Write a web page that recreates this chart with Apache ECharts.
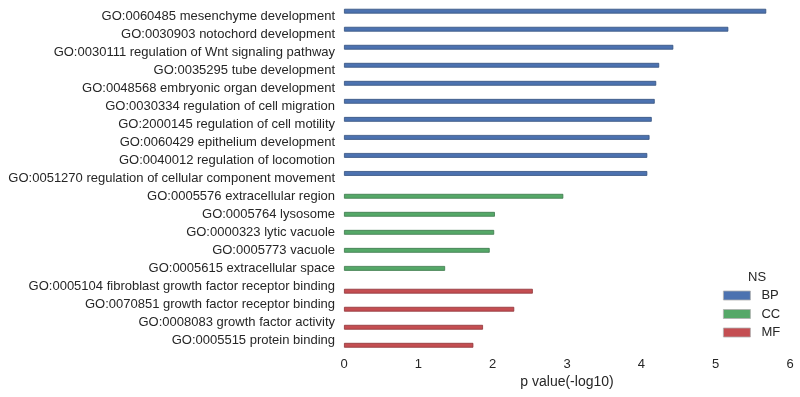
<!DOCTYPE html>
<html>
<head>
<meta charset="utf-8">
<script src="https://cdn.jsdelivr.net/npm/echarts@6/dist/echarts.min.js"></script>
<style>
html,body{margin:0;padding:0;background:#fff;}
#chart{width:800px;height:397px;}
</style>
</head>
<body>
<div id="chart"></div>
<script>
const bpTerms = [
  "GO:0060485 mesenchyme development",
  "GO:0030903 notochord development",
  "GO:0030111 regulation of Wnt signaling pathway",
  "GO:0035295 tube development",
  "GO:0048568 embryonic organ development",
  "GO:0030334 regulation of cell migration",
  "GO:2000145 regulation of cell motility",
  "GO:0060429 epithelium development",
  "GO:0040012 regulation of locomotion",
  "GO:0051270 regulation of cellular component movement"
];
const bpValues = [5.68, 5.17, 4.43, 4.24, 4.20, 4.18, 4.14, 4.11, 4.08, 4.08];
const ccTerms = [
  "GO:0005576 extracellular region",
  "GO:0005764 lysosome",
  "GO:0000323 lytic vacuole",
  "GO:0005773 vacuole",
  "GO:0005615 extracellular space"
];
const ccValues = [2.95, 2.03, 2.02, 1.96, 1.36];
const mfTerms = [
  "GO:0005104 fibroblast growth factor receptor binding",
  "GO:0070851 growth factor receptor binding",
  "GO:0008083 growth factor activity",
  "GO:0005515 protein binding"
];
const mfValues = [2.54, 2.29, 1.87, 1.74];
const xTicks = [0, 1, 2, 3, 4, 5, 6];

const categories = bpTerms.concat(ccTerms, mfTerms);
function fill(terms, values) {
  return categories.map(c => {
    const i = terms.indexOf(c);
    return i >= 0 ? values[i] : null;
  });
}
const colors = { BP: '#4C72B0', CC: '#55A868', MF: '#C44E52' };
const edge = { BP: '#34507e', CC: '#3b774a', MF: '#8e3437' };
function mk(name, terms, values) {
  return {
    name: name,
    type: 'bar',
    data: fill(terms, values),
    barGap: '0%',
    barCategoryGap: '20%',
    itemStyle: { color: colors[name], borderColor: edge[name], borderWidth: 0.8 },
    emphasis: { disabled: true }
  };
}
const chart = echarts.init(document.getElementById('chart'), null, { renderer: 'canvas' });
chart.setOption({
  animation: false,
  backgroundColor: '#ffffff',
  textStyle: { fontFamily: 'Liberation Sans, Arial, sans-serif' },
  title: {
    text: 'NS', left: 743, top: 266,
    textStyle: { fontSize: 13, fontWeight: 'normal', color: '#262626', fontFamily: 'Liberation Sans' }
  },
  legend: {
    orient: 'vertical', left: 718, top: 284,
    itemWidth: 27, itemHeight: 9, itemGap: 5.5,
    icon: 'rect',
    data: ['BP', 'CC', 'MF'],
    itemStyle: { borderColor: '#b0b0b0', borderWidth: 0.8 },
    textStyle: { fontSize: 13, color: '#262626', fontFamily: 'Liberation Sans', padding: [0, 0, 0, 6] }
  },
  grid: { left: 344, right: 10, top: 7, bottom: 47.5, containLabel: false },
  xAxis: {
    type: 'value', min: xTicks[0], max: xTicks[xTicks.length - 1], interval: 1,
    name: 'p value(-log10)', nameLocation: 'middle', nameGap: 25,
    nameTextStyle: { fontSize: 14, color: '#262626', fontFamily: 'Liberation Sans' },
    axisLine: { show: false }, axisTick: { show: false }, splitLine: { show: false },
    axisLabel: { fontSize: 13, color: '#262626', margin: 8, fontFamily: 'Liberation Sans' }
  },
  yAxis: {
    type: 'category', data: categories, inverse: true,
    axisLine: { show: false }, axisTick: { show: false }, splitLine: { show: false },
    axisLabel: { fontSize: 13, color: '#262626', margin: 9, fontFamily: 'Liberation Sans' }
  },
  series: [mk('BP', bpTerms, bpValues), mk('CC', ccTerms, ccValues), mk('MF', mfTerms, mfValues)]
});
</script>
</body>
</html>
